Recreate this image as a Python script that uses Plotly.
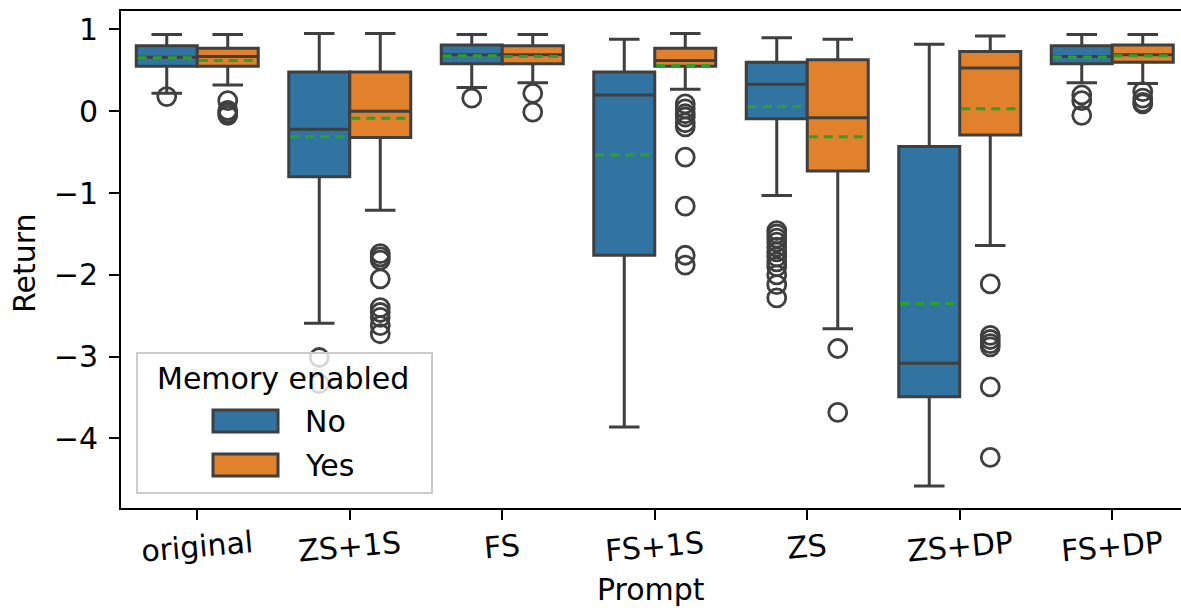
import plotly.graph_objects as go

# Prompt variants on the x axis
prompts = ["original", "ZS+1S", "FS", "FS+1S", "ZS", "ZS+DP", "FS+DP"]
hue_labels = ["No", "Yes"]

# Box statistics per prompt, memory disabled ("No")
no_upper = [0.94, 0.95, 0.94, 0.88, 0.90, 0.82, 0.94]
no_q3 = [0.80, 0.48, 0.81, 0.48, 0.60, -0.43, 0.80]
no_median = [0.66, -0.22, 0.69, 0.20, 0.33, -3.08, 0.67]
no_q1 = [0.55, -0.80, 0.58, -1.76, -0.09, -3.49, 0.58]
no_lower = [0.22, -2.59, 0.29, -3.86, -1.03, -4.58, 0.35]
no_mean = [0.655, -0.31, 0.68, -0.53, 0.06, -2.35, 0.665]
no_outliers = [
    [0.18],
    [-3.01, -3.33],
    [0.16],
    [],
    [-1.46, -1.50, -1.55, -1.60, -1.66, -1.72, -1.78, -1.84, -1.90, -2.00, -2.12, -2.28],
    [],
    [0.20, 0.13, -0.05],
]

# Box statistics per prompt, memory enabled ("Yes")
yes_upper = [0.94, 0.95, 0.94, 0.95, 0.88, 0.92, 0.94]
yes_q3 = [0.77, 0.48, 0.80, 0.77, 0.63, 0.73, 0.81]
yes_median = [0.67, 0.00, 0.69, 0.62, -0.08, 0.53, 0.69]
yes_q1 = [0.55, -0.32, 0.58, 0.55, -0.73, -0.29, 0.60]
yes_lower = [0.32, -1.21, 0.35, 0.27, -2.66, -1.64, 0.34]
yes_mean = [0.62, -0.085, 0.67, 0.56, -0.31, 0.03, 0.68]
yes_outliers = [
    [0.13, 0.01, -0.02, -0.05],
    [-1.74, -1.78, -1.82, -2.05, -2.40, -2.46, -2.52, -2.62, -2.72],
    [0.22, -0.01],
    [0.09, 0.03, -0.03, -0.07, -0.14, -0.19, -0.56, -1.16, -1.76, -1.88],
    [-2.90, -3.68],
    [-2.11, -2.74, -2.79, -2.84, -2.88, -3.37, -4.23],
    [0.24, 0.16, 0.11, 0.09],
]

BLUE = "#3274a1"
ORANGE = "#e1812c"
EDGE = "#3f3f3f"
MEAN_GREEN = "#2ca02c"
FONT = "DejaVu Sans"
FS_ = 30
HALF = 0.2  # offset of each hue from the category centre
BOX_W = 0.4
LW = 3

groups = [
    (hue_labels[0], BLUE, -HALF, no_q1, no_median, no_q3, no_lower, no_upper, no_mean, no_outliers),
    (hue_labels[1], ORANGE, HALF, yes_q1, yes_median, yes_q3, yes_lower, yes_upper, yes_mean, yes_outliers),
]

fig = go.Figure()

for name, color, off, q1, med, q3, lo, hi, mean, outs in groups:
    xs = [i + off for i in range(len(prompts))]
    fig.add_trace(go.Box(
        name=name, x=xs, q1=q1, median=med, q3=q3,
        lowerfence=lo, upperfence=hi,
        width=BOX_W, whiskerwidth=0.5,
        fillcolor=color, line=dict(color=EDGE, width=LW),
        boxpoints=False, showlegend=False, hoverinfo="skip",
    ))

for name, color, off, q1, med, q3, lo, hi, mean, outs in groups:
    # dashed mean line across each box
    mx, my = [], []
    for i, m in enumerate(mean):
        c = i + off
        mx += [c - BOX_W / 2 + 0.01, c + BOX_W / 2 - 0.01, None]
        my += [m, m, None]
    fig.add_trace(go.Scatter(
        x=mx, y=my, mode="lines",
        line=dict(color=MEAN_GREEN, width=3, dash="9px,6px"),
        showlegend=False, hoverinfo="skip",
    ))
    # outlier points
    ox, oy = [], []
    for i, pts in enumerate(outs):
        ox += [i + off] * len(pts)
        oy += pts
    fig.add_trace(go.Scatter(
        x=ox, y=oy, mode="markers",
        marker=dict(symbol="circle-open", size=18, color=EDGE, line=dict(width=2.8, color=EDGE)),
        showlegend=False, hoverinfo="skip",
    ))

W, H = 1181, 610
L, T, B = 121, 11, 102
plot_w = W - L
plot_h = H - T - B
step_px = 152.5


def px_x(p):
    return (p - L) / plot_w


def px_y(p):
    return (H - B - p) / plot_h


fig.update_layout(
    width=W, height=H,
    margin=dict(l=L, r=0, t=T, b=B),
    paper_bgcolor="white", plot_bgcolor="white",
    font=dict(family=FONT, size=FS_, color="black"),
    showlegend=False,
    xaxis=dict(
        range=[-0.5, -0.5 + plot_w / step_px],
        tickmode="array", tickvals=list(range(len(prompts))), ticktext=prompts,
        showticklabels=False,
        ticks="outside", ticklen=10, tickwidth=2, tickcolor="black",
        showline=True, linecolor="black", linewidth=2, mirror=True,
        showgrid=False, zeroline=False,
    ),
    yaxis=dict(
        range=[-4.85, 1.226],
        tickmode="array", tickvals=[1, 0, -1, -2, -3, -4],
        ticks="outside", ticklen=10, tickwidth=2, tickcolor="black",
        showline=True, linecolor="black", linewidth=2,
        showgrid=False, zeroline=False, tickfont=dict(size=FS_),
        ticklabelstandoff=5,
    ),
)

# slightly rotated category labels, centred under each tick
for i, lab in enumerate(prompts):
    fig.add_annotation(text=lab, xref="x", yref="paper", x=i, y=px_y(546),
                       showarrow=False, textangle=-5, xanchor="center", yanchor="middle",
                       font=dict(size=FS_))

# axis titles
fig.add_annotation(text="Prompt", xref="paper", yref="paper", x=0.5, y=px_y(609),
                   showarrow=False, xanchor="center", yanchor="bottom", font=dict(size=FS_))
fig.add_annotation(text="Return", xref="paper", yref="paper", x=px_x(24), y=px_y(263),
                   showarrow=False, textangle=-90, xanchor="center", yanchor="middle",
                   font=dict(size=FS_))

# legend panel
fig.add_shape(type="rect", xref="paper", yref="paper",
              x0=px_x(137), x1=px_x(432), y0=px_y(493), y1=px_y(353),
              fillcolor="rgba(255,255,255,0.8)", line=dict(color="#cccccc", width=2),
              layer="above")
fig.add_annotation(text="Memory enabled", xref="paper", yref="paper",
                   x=px_x(283), y=px_y(378), showarrow=False,
                   xanchor="center", yanchor="middle", font=dict(size=FS_))
for label, color, cy in [(hue_labels[0], BLUE, 421), (hue_labels[1], ORANGE, 465)]:
    fig.add_shape(type="rect", xref="paper", yref="paper",
                  x0=px_x(213), x1=px_x(278), y0=px_y(cy + 11), y1=px_y(cy - 11),
                  fillcolor=color, line=dict(color=EDGE, width=LW), layer="above")
    fig.add_annotation(text=label, xref="paper", yref="paper",
                       x=px_x(303), y=px_y(cy), showarrow=False,
                       xanchor="left", yanchor="middle", font=dict(size=FS_))

fig.write_html("out.html")
